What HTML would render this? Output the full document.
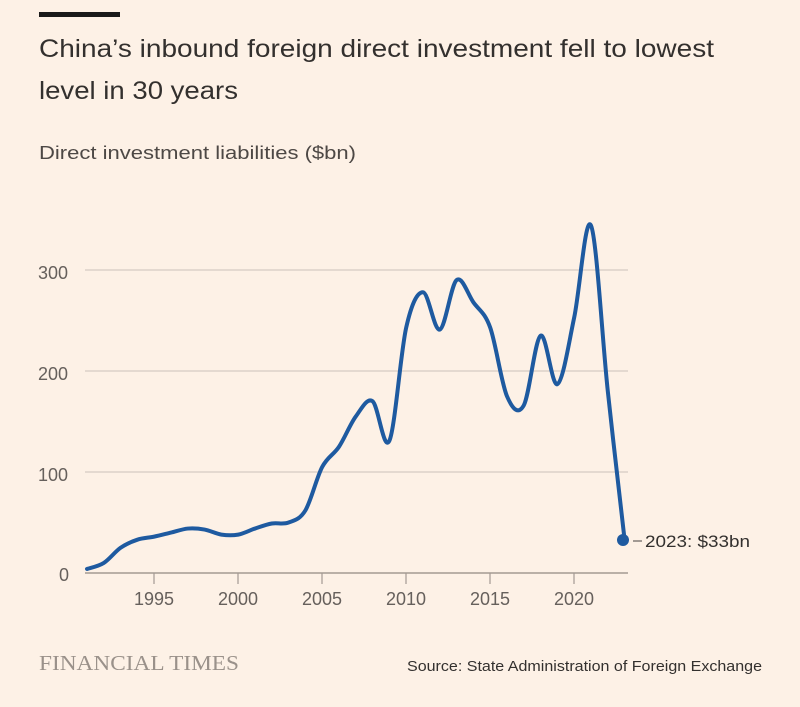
<!DOCTYPE html>
<html><head><meta charset="utf-8"><style>
body{margin:0;background:#fdf1e6;width:800px;height:702px;overflow:hidden;font-family:"Liberation Sans",sans-serif;}
</style></head><body>
<svg width="800" height="702" xmlns="http://www.w3.org/2000/svg">
<rect width="800" height="702" fill="#fdf1e6"/>
<rect x="39" y="12" width="81" height="5" fill="#1a1a1a"/>
<text x="39" y="57" font-size="25" fill="#33302e" textLength="675" lengthAdjust="spacingAndGlyphs">China’s inbound foreign direct investment fell to lowest</text>
<text x="39" y="99" font-size="25" fill="#33302e" textLength="199" lengthAdjust="spacingAndGlyphs">level in 30 years</text>
<text x="39" y="159" font-size="18" fill="#4d4845" textLength="317" lengthAdjust="spacingAndGlyphs">Direct investment liabilities ($bn)</text>
<g stroke="#d6cbc2" stroke-width="1.2">
<line x1="85" x2="628" y1="270" y2="270"/><line x1="85" x2="628" y1="371" y2="371"/><line x1="85" x2="628" y1="472" y2="472"/>
</g>
<line x1="85" x2="628" y1="573" y2="573" stroke="#a39a92" stroke-width="1.5"/>
<g stroke="#a39a92" stroke-width="1.2">
<line x1="154" x2="154" y1="573" y2="584"/><line x1="238" x2="238" y1="573" y2="584"/><line x1="322" x2="322" y1="573" y2="584"/><line x1="406" x2="406" y1="573" y2="584"/><line x1="490" x2="490" y1="573" y2="584"/><line x1="574" x2="574" y1="573" y2="584"/>
</g>
<g font-size="18" fill="#66605c">
<text x="38" y="279">300</text><text x="38" y="380">200</text><text x="38" y="481">100</text><text x="59" y="581">0</text>
<g text-anchor="middle"><text x="154" y="605">1995</text><text x="238" y="605">2000</text><text x="322" y="605">2005</text><text x="406" y="605">2010</text><text x="490" y="605">2015</text><text x="574" y="605">2020</text></g>
</g>
<path id="ln" fill="none" stroke="#1e5aa0" stroke-width="4" stroke-linejoin="round" stroke-linecap="round"/>
<circle cx="623" cy="540" r="6" fill="#1e5aa0"/>
<line x1="633" x2="642" y1="541" y2="541" stroke="#66605c" stroke-width="1.2"/>
<text x="645" y="547" font-size="17" fill="#33302e" textLength="105" lengthAdjust="spacingAndGlyphs">2023: $33bn</text>
<text x="39" y="670" font-family="Liberation Serif,serif" font-size="21" fill="#9a918a" textLength="200" lengthAdjust="spacingAndGlyphs">FINANCIAL TIMES</text>
<text x="407" y="671" font-size="15" fill="#33302e" textLength="355" lengthAdjust="spacingAndGlyphs">Source: State Administration of Foreign Exchange</text>
</svg>
<script>
var v=[4,10,25,33,36,40,44,43,38,38,44,49,50,62,105,125,155,170,131,243,278,241,290,268,243,175,166,235,187,253,344,180,33];
var p=v.map(function(d,i){return [87+i*16.8,573-d*1.01];});
var s="M"+p[0][0]+","+p[0][1];
for(var i=0;i<p.length-1;i++){var a=p[Math.max(i-1,0)],b=p[i],c=p[i+1],d=p[Math.min(i+2,p.length-1)];
s+=" C"+(b[0]+(c[0]-a[0])/6)+","+(b[1]+(c[1]-a[1])/6)+" "+(c[0]-(d[0]-b[0])/6)+","+(c[1]-(d[1]-b[1])/6)+" "+c[0]+","+c[1];}
document.getElementById("ln").setAttribute("d",s);
</script>
</body></html>
